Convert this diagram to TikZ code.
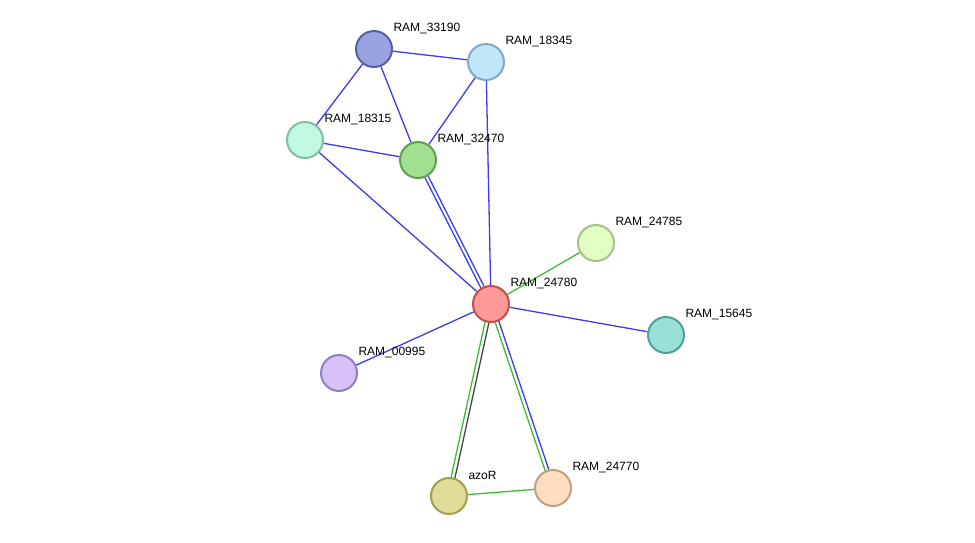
\documentclass[tikz,border=0pt]{standalone}
\usepackage{fontspec}
\setmainfont{Liberation Sans}
\usetikzlibrary{backgrounds}
\tikzset{prot/.style={circle,minimum size=36pt,inner sep=0pt,line width=2pt},
  lbl/.style={anchor=west,font=\fontsize{12}{14}\selectfont},
  blueedge/.style={draw={rgb,255:red,60;green,60;blue,240},line width=1.3pt},
  greenedge/.style={draw={rgb,255:red,60;green,190;blue,50},line width=1.3pt},
  grayedge/.style={draw={rgb,255:red,70;green,70;blue,70},line width=1.3pt}}
\begin{document}
\begin{tikzpicture}[x=1pt,y=-1pt]
\useasboundingbox (0,0) rectangle (975,542);
% proteins
\node[prot,fill={rgb,255:red,255;green,153;blue,153},draw={rgb,255:red,192;green,80;blue,80}] (n24780) at (491,304) {};
\node[prot,fill={rgb,255:red,153;green,163;blue,224},draw={rgb,255:red,85;green,96;blue,160}] (n33190) at (374,49) {};
\node[prot,fill={rgb,255:red,192;green,230;blue,250},draw={rgb,255:red,128;green,168;blue,200}] (n18345) at (486,62) {};
\node[prot,fill={rgb,255:red,192;green,248;blue,224},draw={rgb,255:red,128;green,192;blue,160}] (n18315) at (305,140) {};
\node[prot,fill={rgb,255:red,160;green,224;blue,144},draw={rgb,255:red,96;green,160;blue,80}] (n32470) at (418,160) {};
\node[prot,fill={rgb,255:red,224;green,255;blue,192},draw={rgb,255:red,168;green,192;blue,136}] (n24785) at (596,243) {};
\node[prot,fill={rgb,255:red,153;green,224;blue,216},draw={rgb,255:red,80;green,160;blue,152}] (n15645) at (666,335) {};
\node[prot,fill={rgb,255:red,216;green,192;blue,248},draw={rgb,255:red,144;green,128;blue,192}] (n00995) at (339,373) {};
\node[prot,fill={rgb,255:red,224;green,220;blue,152},draw={rgb,255:red,160;green,160;blue,80}] (azoR) at (449,496) {};
\node[prot,fill={rgb,255:red,255;green,221;blue,192},draw={rgb,255:red,192;green,160;blue,128}] (n24770) at (553,488) {};
% labels
\node[lbl] (l24780) at ([shift={(16,-21)}]n24780.center) {RAM\_24780};
\node[lbl] (l33190) at ([shift={(16,-21)}]n33190.center) {RAM\_33190};
\node[lbl] (l18345) at ([shift={(16,-21)}]n18345.center) {RAM\_18345};
\node[lbl] (l18315) at ([shift={(16,-21)}]n18315.center) {RAM\_18315};
\node[lbl] (l32470) at ([shift={(16,-21)}]n32470.center) {RAM\_32470};
\node[lbl] (l24785) at ([shift={(16,-21)}]n24785.center) {RAM\_24785};
\node[lbl] (l15645) at ([shift={(16,-21)}]n15645.center) {RAM\_15645};
\node[lbl] (l00995) at ([shift={(16,-21)}]n00995.center) {RAM\_00995};
\node[lbl] (lazoR) at ([shift={(16,-21)}]azoR.center) {azoR};
\node[lbl] (l24770) at ([shift={(16,-21)}]n24770.center) {RAM\_24770};
% interactions
\begin{scope}[on background layer]
\draw[blueedge] (n33190) -- (n18345);
\draw[blueedge] (n33190) -- (n18315);
\draw[blueedge] (n33190) -- (n32470);
\draw[blueedge] (n18345) -- (n32470);
\draw[blueedge] (n18345) -- (n24780);
\draw[blueedge] (n18315) -- (n32470);
\draw[blueedge] (n18315) -- (n24780);
\draw[blueedge] ([xshift=-2]n32470.center) -- ([xshift=-2]n24780.center);
\draw[blueedge] ([xshift=2]n32470.center) -- ([xshift=2]n24780.center);
\draw[blueedge] (n24780) -- (n15645);
\draw[blueedge] (n24780) -- (n00995);
\draw[greenedge] (n24780) -- (n24785);
\draw[greenedge] ([xshift=-2]n24780.center) -- ([xshift=-2]azoR.center);
\draw[grayedge] ([xshift=2]n24780.center) -- ([xshift=2]azoR.center);
\draw[greenedge] ([xshift=-2]n24780.center) -- ([xshift=-2]n24770.center);
\draw[blueedge] ([xshift=2]n24780.center) -- ([xshift=2]n24770.center);
\draw[greenedge] (azoR) -- (n24770);
\end{scope}
\end{tikzpicture}
\end{document}
